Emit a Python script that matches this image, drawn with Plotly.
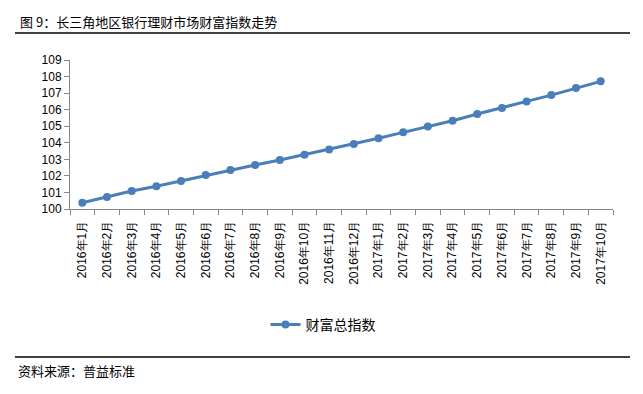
import plotly.graph_objects as go

categories = ["2016年1月", "2016年2月", "2016年3月", "2016年4月", "2016年5月", "2016年6月",
              "2016年7月", "2016年8月", "2016年9月", "2016年10月", "2016年11月", "2016年12月",
              "2017年1月", "2017年2月", "2017年3月", "2017年4月", "2017年5月", "2017年6月",
              "2017年7月", "2017年8月", "2017年9月", "2017年10月"]
wealth_index = [100.38, 100.72, 101.09, 101.37, 101.69, 102.05, 102.36, 102.66, 102.96, 103.28,
                103.60, 103.93, 104.27, 104.63, 104.99, 105.33, 105.74, 106.10, 106.50, 106.88,
                107.31, 107.71]
y_ticks = [100, 101, 102, 103, 104, 105, 106, 107, 108, 109]
series_name = "财富总指数"
title_text = "图 9：长三角地区银行理财市场财富指数走势"
source_text = "资料来源：普益标准"

OFF = 8  # page body margin
W, H = 643 - 2 * OFF, 394 - 2 * OFF
L, R, T, B = 70 - OFF, W - (613 - OFF), 60 - OFF, H - (209 - OFF)
pw, ph = W - L - R, H - T - B

def px(x):
    return (x - OFF - L) / pw

def py(y):
    return (H - B - (y - OFF)) / ph

fig = go.Figure()
fig.add_trace(go.Scatter(
    x=categories, y=wealth_index, mode="lines+markers", name=series_name,
    line=dict(color="#4A7EBB", width=3),
    marker=dict(symbol="circle", size=8, color="#4A7EBB"),
))

font_cjk = "Noto Sans CJK SC"
fig.update_layout(
    width=W, height=H,
    margin=dict(l=L, r=R, t=T, b=B),
    paper_bgcolor="white", plot_bgcolor="white",
    showlegend=True,
    legend=dict(orientation="h", x=px(323), y=py(325), xanchor="center", yanchor="middle",
                font=dict(family=font_cjk, size=14, color="#000"), itemwidth=30),
    xaxis=dict(type="category", showgrid=False, showline=True, linecolor="#868686", linewidth=1,
               ticks="outside", tickson="boundaries", ticklen=5, tickcolor="#868686",
               tickangle=-90, ticklabelstandoff=6,
               tickfont=dict(family="Arial, Liberation Sans", size=12, color="#000"),
               range=[-0.5, len(categories) - 0.5], fixedrange=True),
    yaxis=dict(range=[100, 109], tickvals=y_ticks, showgrid=False, showline=True,
               linecolor="#868686", linewidth=1, ticks="outside", ticklen=5, tickcolor="#868686",
               tickfont=dict(family="Arial, Liberation Sans", size=12, color="#000"), zeroline=False),
    shapes=[
        dict(type="line", xref="paper", yref="paper", x0=px(15), x1=px(630), y0=py(33), y1=py(33),
             line=dict(color="#000", width=1.5)),
        dict(type="line", xref="paper", yref="paper", x0=px(15), x1=px(630), y0=py(357), y1=py(357),
             line=dict(color="#000", width=1.5)),
    ],
    annotations=[
        dict(text=title_text, xref="paper", yref="paper", x=px(18), y=py(22), xanchor="left",
             yanchor="middle", showarrow=False, font=dict(family=font_cjk, size=13, color="#000")),
        dict(text=source_text, xref="paper", yref="paper", x=px(16), y=py(370), xanchor="left",
             yanchor="middle", showarrow=False, font=dict(family=font_cjk, size=13, color="#000")),
    ],
)

fig.write_html("out.html")
